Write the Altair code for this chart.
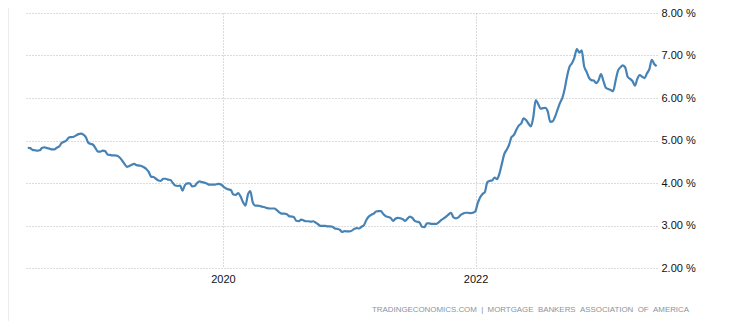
import altair as alt
import pandas as pd

# Weekly MBA 30-year fixed mortgage rate (%)
rates_2018 = [4.83, 4.82, 4.78, 4.77, 4.76, 4.77, 4.83, 4.84, 4.82, 4.81,
              4.79, 4.79, 4.83, 4.86, 4.94, 4.97, 5.00, 5.07, 5.08, 5.09,
              5.12, 5.15, 5.16, 5.14, 5.08, 4.95, 4.92, 4.90, 4.82]
rates_2019 = [4.74, 4.74, 4.76, 4.75, 4.67, 4.66, 4.65, 4.65, 4.64, 4.60,
              4.53, 4.45, 4.38, 4.40, 4.43, 4.45, 4.42, 4.41, 4.40, 4.37,
              4.33, 4.26, 4.15, 4.14, 4.10, 4.06, 4.05, 4.10, 4.10, 4.08,
              4.07, 4.00, 3.94, 3.93, 3.94, 3.82, 3.95, 3.99, 3.99, 3.92,
              3.93, 4.00, 4.04, 4.02, 4.01, 3.99, 3.96, 3.96, 3.96, 3.97,
              3.98, 3.96]
rates_2020 = [3.91, 3.87, 3.85, 3.83, 3.73, 3.72, 3.76, 3.68, 3.55, 3.47,
              3.72, 3.81, 3.55, 3.47, 3.47, 3.46, 3.44, 3.43, 3.41, 3.40,
              3.40, 3.40, 3.36, 3.31, 3.28, 3.28, 3.27, 3.22, 3.21, 3.20,
              3.11, 3.10, 3.14, 3.12, 3.10, 3.10, 3.09, 3.10, 3.07, 3.03,
              2.99, 2.99, 2.99, 2.98, 2.98, 2.97, 2.93, 2.92, 2.90, 2.85,
              2.87, 2.86]
rates_2021 = [2.86, 2.88, 2.92, 2.94, 2.93, 2.97, 3.01, 3.13, 3.21, 3.25,
              3.28, 3.33, 3.34, 3.34, 3.27, 3.22, 3.20, 3.18, 3.11, 3.16,
              3.18, 3.17, 3.15, 3.11, 3.16, 3.21, 3.18, 3.11, 3.09, 3.07,
              2.97, 2.96, 3.05, 3.05, 3.04, 3.04, 3.04, 3.08, 3.13, 3.17,
              3.21, 3.26, 3.30, 3.19, 3.17, 3.19, 3.25, 3.28, 3.30, 3.30,
              3.29, 3.30, 3.33]
rates_2022 = [3.52, 3.66, 3.74, 3.79, 4.02, 4.05, 4.06, 4.13, 4.09, 4.22,
              4.45, 4.68, 4.78, 4.90, 5.08, 5.13, 5.25, 5.35, 5.40, 5.52,
              5.48, 5.40, 5.33, 5.55, 5.95, 5.86, 5.75, 5.76, 5.77, 5.68,
              5.44, 5.45, 5.56, 5.72, 5.88, 6.00, 6.22, 6.52, 6.74, 6.82,
              6.95, 7.15, 7.07, 7.12, 6.75, 6.62, 6.48, 6.42, 6.41, 6.35,
              6.42, 6.56]
rates_2023 = [6.40, 6.24, 6.21, 6.19, 6.16, 6.40, 6.64, 6.72, 6.77, 6.72,
              6.50, 6.45, 6.40, 6.29, 6.45, 6.54, 6.50, 6.47, 6.58, 6.68,
              6.90, 6.80, 6.75]

rates = rates_2018 + rates_2019 + rates_2020 + rates_2021 + rates_2022 + rates_2023
first_week = "2018-06-15"
dates = pd.date_range(first_week, periods=len(rates), freq="7D")
df = pd.DataFrame({"date": dates.strftime("%Y-%m-%d"), "rate": rates})

y_ticks = [2, 3, 4, 5, 6, 7, 8]
x_ticks = [alt.DateTime(year=2020, month=1, date=1, utc=True),
           alt.DateTime(year=2022, month=1, date=1, utc=True)]
x_domain = [alt.DateTime(year=2018, month=6, date=10, utc=True),
            alt.DateTime(year=2023, month=6, date=10, utc=True)]
NB = "\u00a0"
source_text = ("TRADINGECONOMICS.COM" + NB * 2 + "|" + NB * 2 +
               (NB * 2).join(["MORTGAGE", "BANKERS", "ASSOCIATION", "OF", "AMERICA"]))

W, H = 631, 255
LABEL_FONT = "Liberation Sans"
GRID = "#b8b8b8"

line = alt.Chart(df).mark_line(
    color="#4682b4", strokeWidth=2.2, interpolate="monotone"
).encode(
    x=alt.X("date:T",
            scale=alt.Scale(type="utc", domain=x_domain),
            axis=alt.Axis(values=x_ticks, format="%Y", title=None, grid=True,
                          gridDash=[1, 2], gridColor=GRID, ticks=False,
                          domain=False, labelPadding=5, labelFontSize=11,
                          labelFont=LABEL_FONT, labelColor="#111")),
    y=alt.Y("rate:Q",
            scale=alt.Scale(domain=[2, 8], nice=False, zero=False),
            axis=alt.Axis(orient="right", values=y_ticks, title=None,
                          labelExpr="format(datum.value, '.2f') + ' %'",
                          grid=True, gridDash=[1, 2], gridColor=GRID,
                          ticks=False, domain=False, labelPadding=4,
                          labelFontSize=11, labelFont=LABEL_FONT,
                          labelColor="#111")),
)

footer = alt.Chart(pd.DataFrame({"t": [source_text]})).mark_text(
    align="right", baseline="middle", fontSize=7.9,
    font=LABEL_FONT, color="#8794a3"
).encode(x=alt.value(663), y=alt.value(297), text="t:N")

left_border = alt.Chart(pd.DataFrame({"a": [0]})).mark_rule(
    color="#ececec", strokeWidth=1
).encode(x=alt.value(-17.5), y=alt.value(-5), y2=alt.value(H + 53))

chart = alt.layer(line, footer, left_border).properties(
    width=W, height=H,
    autosize=alt.AutoSizeParams(type="none"),
    padding={"left": 18, "top": 5, "right": 75, "bottom": 53},
    background="white",
).configure_view(stroke=None)

chart.save("out.html", embed_options={"renderer": "svg", "actions": False})
